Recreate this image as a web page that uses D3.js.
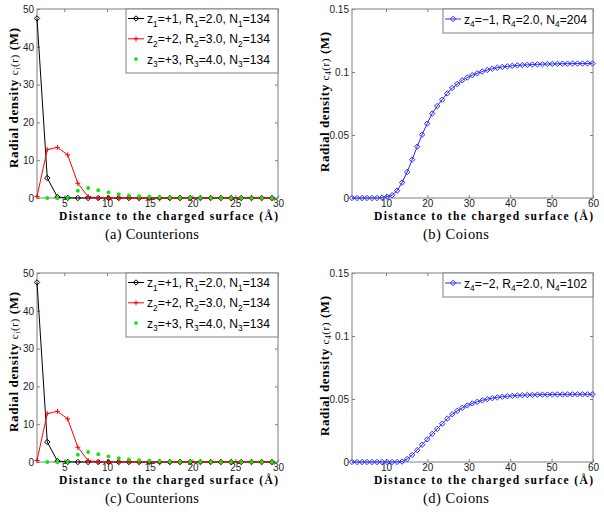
<!DOCTYPE html>
<html><head><meta charset="utf-8">
<script src="https://cdn.jsdelivr.net/npm/d3@7"></script>
<style>body{margin:0;background:#fff}</style>
</head><body>
<svg id="c" width="604" height="517" xmlns="http://www.w3.org/2000/svg"></svg>
<script>
// ---------- data ----------
const xCounter = [1.80, 3.00, 4.19, 5.39, 6.58, 7.78, 8.97, 10.17, 11.36, 12.56, 13.75, 14.95,
  16.14, 17.34, 18.53, 19.73, 20.92, 22.12, 23.31, 24.51, 25.70, 26.90, 28.09, 29.29];
const c1 = [47.5, 5.3, 0.25, 0.02, 0, 0, 0, 0, 0, 0, 0, 0, 0, 0, 0, 0, 0, 0, 0, 0, 0, 0, 0, 0];
const c2 = [0.4, 12.8, 13.4, 11.4, 3.9, 0.35, 0.05, 0, 0, 0, 0, 0, 0, 0, 0, 0, 0, 0, 0, 0, 0, 0, 0, 0];
const c3 = [null, 0, 0, 0.02, 1.95, 2.65, 2.05, 1.5, 1.0, 0.72, 0.46, 0.35, 0.26, 0.18, 0.12, 0.08,
  0.06, 0.04, 0.03, 0.02, 0.02, 0.01, 0.01, 0.01];

const xCo = [1.80, 3.01, 4.22, 5.43, 6.64, 7.85, 9.06, 10.27, 11.48, 12.69, 13.90, 15.11, 16.32,
  17.53, 18.74, 19.95, 21.16, 22.37, 23.58, 24.79, 26.00, 27.21, 28.42, 29.63, 30.84, 32.05, 33.26,
  34.47, 35.68, 36.89, 38.10, 39.31, 40.52, 41.73, 42.94, 44.15, 45.36, 46.57, 47.78, 48.99, 50.20,
  51.41, 52.62, 53.83, 55.04, 56.25, 57.46, 58.67, 59.88];
const c4b = [0, 0, 0, 0, 0, 0, 0.0003, 0.001, 0.0022, 0.0058, 0.0122, 0.0206, 0.0304, 0.0407, 0.0503,
  0.059, 0.067, 0.073, 0.078, 0.083, 0.0873, 0.0905, 0.0934, 0.0956, 0.0975, 0.099, 0.1004, 0.1016,
  0.1026, 0.1034, 0.104, 0.1045, 0.1049, 0.1052, 0.1055, 0.1057, 0.1059, 0.1061, 0.1062, 0.1063,
  0.1064, 0.1065, 0.1066, 0.1066, 0.1067, 0.1067, 0.1067, 0.1068, 0.1068];
const c4d = [0, 0, 0, 0, 0, 0, 0, 0, 0, 0, 0.0003, 0.0024, 0.0056, 0.0094, 0.0137, 0.018, 0.0223,
  0.0263, 0.0304, 0.0344, 0.0379, 0.0406, 0.043, 0.0449, 0.0465, 0.0478, 0.0489, 0.0499, 0.0507,
  0.0513, 0.0518, 0.0522, 0.0525, 0.0528, 0.053, 0.0532, 0.0533, 0.0534, 0.0535, 0.0535, 0.0536,
  0.0536, 0.0536, 0.0537, 0.0537, 0.0537, 0.0537, 0.0537, 0.0537];

const xTicksCounter = [5, 10, 15, 20, 25, 30];
const yTicksCounter = [0, 10, 20, 30, 40, 50];
const xTicksCo = [10, 20, 30, 40, 50, 60];
const yTicksCo = [0, 0.05, 0.1, 0.15];
const yTickLabelsCo = ["0", "0.05", "0.1", "0.15"];

const legendCounter = [
  {z: "+1", i: "1", R: "2.0", N: "134"},
  {z: "+2", i: "2", R: "3.0", N: "134"},
  {z: "+3", i: "3", R: "4.0", N: "134"}
];
const legendCoB = [{z: "\u22121", i: "4", R: "2.0", N: "204"}];
const legendCoD = [{z: "\u22122", i: "4", R: "2.0", N: "102"}];
const captions = ["(a) Counterions", "(b) Coions", "(c) Counterions", "(d) Coions"];
const xLabel = "Distance to the charged surface (\u00C5)";

// ---------- drawing ----------
const svg = d3.select("#c");
const axisColor = "#808080";
const sans = "'Liberation Sans', Arial, Helvetica, sans-serif";
const serif = "'Liberation Serif', 'DejaVu Serif', serif";

function marker(g, type, cx, cy, color) {
  if (type === "diamond") {
    const s = 2.7;
    g.append("path").attr("d", `M${cx},${cy - s}L${cx + s},${cy}L${cx},${cy + s}L${cx - s},${cy}Z`)
      .attr("fill", "none").attr("stroke", color).attr("stroke-width", 1);
  } else if (type === "plus") {
    const s = 2.5;
    g.append("path").attr("d", `M${cx - s},${cy}H${cx + s}M${cx},${cy - s}V${cy + s}`)
      .attr("stroke", color).attr("stroke-width", 1);
  } else if (type === "dot") {
    g.append("circle").attr("cx", cx).attr("cy", cy).attr("r", 1.9).attr("fill", color);
  }
}

function panel(cfg) {
  const g = svg.append("g");
  const x = d3.scaleLinear().domain(cfg.xd).range([cfg.l, cfg.r]);
  const y = d3.scaleLinear().domain(cfg.yd).range([cfg.b, cfg.t]);

  g.append("rect").attr("x", cfg.l).attr("y", cfg.t).attr("width", cfg.r - cfg.l)
    .attr("height", cfg.b - cfg.t).attr("fill", "#fff").attr("stroke", axisColor);

  const style = sel => {
    sel.select(".domain").remove();
    sel.selectAll(".tick line").attr("stroke", axisColor);
    sel.selectAll("text").attr("font-family", sans).attr("font-size", 10).attr("fill", "#222");
  };
  const xb = g.append("g").attr("transform", `translate(0,${cfg.b})`)
    .call(d3.axisBottom(x).tickValues(cfg.xt).tickSize(-3).tickPadding(3).tickFormat(d3.format("d")))
    .call(style);
  xb.selectAll("text").attr("y", 8.5).attr("dy", null);
  g.append("g").attr("transform", `translate(0,${cfg.t})`)
    .call(d3.axisTop(x).tickValues(cfg.xt).tickSize(-3).tickFormat(""))
    .call(style);
  g.append("g").attr("transform", `translate(${cfg.l},0)`)
    .call(d3.axisLeft(y).tickValues(cfg.yt).tickSize(-3).tickPadding(3)
      .tickFormat((d, i) => cfg.ytl ? cfg.ytl[i] : String(d)))
    .call(style);
  g.append("g").attr("transform", `translate(${cfg.r},0)`)
    .call(d3.axisRight(y).tickValues(cfg.yt).tickSize(-3).tickFormat(""))
    .call(style);

  // series
  cfg.series.forEach(s => {
    const pts = s.values.map((v, i) => [s.xs[i], v]).filter(p => p[1] !== null);
    if (s.line) {
      g.append("path").datum(pts)
        .attr("d", d3.line().x(p => x(p[0])).y(p => y(p[1])))
        .attr("fill", "none").attr("stroke", s.color).attr("stroke-width", 1);
    }
    pts.forEach(p => marker(g, s.marker, x(p[0]), y(p[1]), s.color));
  });

  // legend
  const lg = cfg.legend;
  g.append("rect").attr("x", lg.x).attr("y", cfg.t).attr("width", cfg.r - lg.x).attr("height", lg.h)
    .attr("fill", "#fff").attr("stroke", axisColor);
  lg.items.forEach((it, k) => {
    const cy = cfg.t + lg.first + k * 20.3;
    const s = cfg.series[k];
    if (s.line) {
      g.append("line").attr("x1", lg.x + 2).attr("x2", lg.x + 18).attr("y1", cy).attr("y2", cy)
        .attr("stroke", s.color).attr("stroke-width", 1);
    }
    marker(g, s.marker, lg.x + 10, cy, s.color);
    const t = g.append("text").attr("x", lg.x + 21).attr("y", cy + 4.5)
      .attr("font-family", sans).attr("font-size", 12.3).attr("fill", "#000");
    t.append("tspan").text("z");
    t.append("tspan").attr("dy", 3.5).attr("font-size", 8.5).text(it.i);
    t.append("tspan").attr("dy", -3.5).text("=" + it.z + ", R");
    t.append("tspan").attr("dy", 3.5).attr("font-size", 8.5).text(it.i);
    t.append("tspan").attr("dy", -3.5).text("=" + it.R + ", N");
    t.append("tspan").attr("dy", 3.5).attr("font-size", 8.5).text(it.i);
    t.append("tspan").attr("dy", -3.5).text("=" + it.N);
    t.attr("textLength", lg.tw).attr("lengthAdjust", "spacingAndGlyphs");
  });

  // x label
  g.append("text").attr("x", cfg.xlx).attr("y", cfg.xly).attr("text-anchor", "middle")
    .attr("font-family", serif).attr("font-weight", "bold").attr("font-size", 11.5)
    .attr("textLength", 219).attr("lengthAdjust", "spacing").text(xLabel);

  // y label
  const yl = g.append("text").attr("transform", `translate(${cfg.ylx},${cfg.yly}) rotate(-90)`)
    .attr("text-anchor", "middle").attr("font-family", serif).attr("font-size", 13)
    .attr("textLength", 140).attr("lengthAdjust", "spacing");
  yl.append("tspan").attr("font-weight", "bold").text("Radial density ");
  yl.append("tspan").attr("font-size", 11).text("c");
  yl.append("tspan").attr("font-size", 7.5).attr("dy", 2).text(cfg.sub);
  yl.append("tspan").attr("font-size", 11).attr("dy", -2).text("(r)");
  yl.append("tspan").attr("font-weight", "bold").text(" (M)");

  // caption
  g.append("text").attr("x", cfg.capx).attr("y", cfg.capy).attr("text-anchor", "middle")
    .attr("font-family", serif).attr("font-size", 14.5).attr("fill", "#000")
    .attr("textLength", cfg.capw).attr("lengthAdjust", "spacing").text(cfg.caption);
}

const counterSeries = [
  {xs: xCounter, values: c1, color: "#000000", marker: "diamond", line: true},
  {xs: xCounter, values: c2, color: "#ff0000", marker: "plus", line: true},
  {xs: xCounter, values: c3, color: "#00ee00", marker: "dot", line: false}
];

[0, 264].forEach((dy, row) => {
  panel({
    l: 37, r: 278, t: 9 + dy, b: 198 + dy, xd: [1.8, 30], yd: [0, 50],
    xt: xTicksCounter, yt: yTicksCounter,
    series: counterSeries,
    legend: {x: 126, h: 64, first: 9.5, items: legendCounter, tw: 123},
    xlx: 168.5, xly: 219.5 + dy, ylx: 18, yly: 98 + dy, sub: "i",
    caption: captions[row * 2], capx: 152, capy: 239 + dy, capw: 94
  });
  panel({
    l: 352, r: 593, t: 9 + dy, b: 198 + dy, xd: [1.8, 60], yd: [0, 0.15],
    xt: xTicksCo, yt: yTicksCo, ytl: yTickLabelsCo,
    series: [{xs: xCo, values: row === 0 ? c4b : c4d, color: "#2a2aff", marker: "diamond", line: true}],
    legend: {x: 443, h: 24, first: 10, items: row === 0 ? legendCoB : legendCoD, tw: 123},
    xlx: 483.5, xly: 219.5 + dy, ylx: 329, yly: 102 + dy, sub: "4",
    caption: captions[row * 2 + 1], capx: 456, capy: 239 + dy, capw: 66
  });
});
</script>
</body></html>
